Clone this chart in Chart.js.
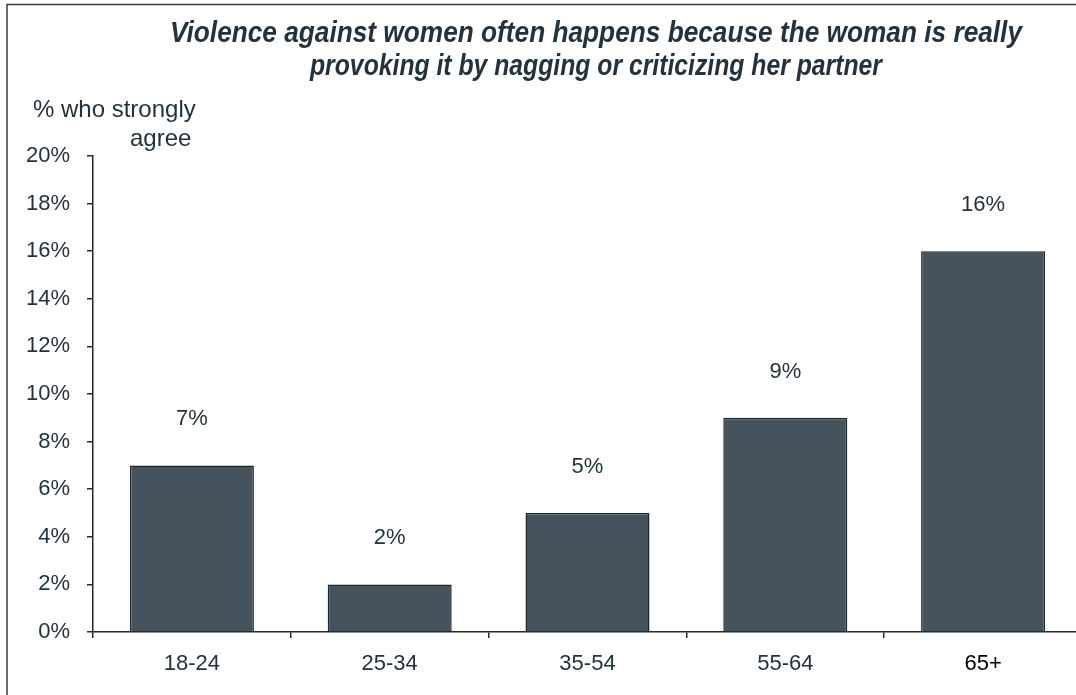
<!DOCTYPE html>
<html>
<head>
<meta charset="utf-8">
<script src="https://cdn.jsdelivr.net/npm/chart.js@4"></script>
<style>
  html, body { margin: 0; padding: 0; background: #fff; overflow: hidden; }
  #wrap { width: 1082px; height: 695px; }
</style>
</head>
<body>
<div id="wrap"><canvas id="chart" width="1082" height="695"></canvas></div>
<script>
// data
const categories = ['18-24', '25-34', '35-54', '55-64', '65+'];
const values = [7, 2, 5, 9, 16];
const yTickValues = [0, 2, 4, 6, 8, 10, 12, 14, 16, 18, 20];
const titleLines = [
    'Violence against women often happens because the woman is really',
    'provoking it by nagging or criticizing her partner'
];
const axisTitleLines = ['% who strongly', 'agree'];

const TEXT = '#25323b';
const AXIS = '#1f2a32';
const FONT = 'Arial, "Liberation Sans", sans-serif';

// title, axis caption, value labels and frame
const decorations = {
    id: 'decorations',
    afterDraw(chart) {
        const ctx = chart.ctx;
        ctx.save();

        // frame
        ctx.strokeStyle = '#3a3a3a';
        ctx.lineWidth = 1.5;
        ctx.beginPath();
        ctx.moveTo(7, 700);
        ctx.lineTo(7, 4.5);
        ctx.lineTo(1100, 4.5);
        ctx.stroke();

        // title, squeezed to the reference width
        ctx.fillStyle = TEXT;
        ctx.textBaseline = 'middle';
        ctx.textAlign = 'center';
        ctx.font = 'bold italic 29px ' + FONT;
        const widths = [852, 572];
        const ys = [34, 67];
        titleLines.forEach((line, i) => {
            const w = ctx.measureText(line).width;
            const s = widths[i] / w;
            ctx.save();
            ctx.translate(596, ys[i]);
            ctx.scale(s, 1);
            ctx.fillText(line, 0, 0);
            ctx.restore();
        });

        // y axis caption
        ctx.font = '24px ' + FONT;
        ctx.textAlign = 'left';
        ctx.fillText(axisTitleLines[0], 33, 110);
        ctx.fillText(axisTitleLines[1], 130, 139);

        // value labels above bars
        ctx.font = '22px ' + FONT;
        ctx.textAlign = 'center';
        const meta = chart.getDatasetMeta(0);
        meta.data.forEach((bar, i) => {
            ctx.fillText(values[i] + '%', bar.x, bar.y - 46);
        });

        ctx.restore();
    }
};

new Chart(document.getElementById('chart'), {
    type: 'bar',
    data: {
        labels: categories,
        datasets: [{
            data: values,
            backgroundColor: '#46535c',
            borderColor: '#1e2830',
            borderWidth: 1.5,
            barPercentage: 0.627,
            categoryPercentage: 1
        }]
    },
    options: {
        responsive: false,
        animation: false,
        devicePixelRatio: 1,
        layout: { padding: { top: 156, left: 0, right: 0, bottom: 0 } },
        plugins: {
            legend: { display: false },
            title: { display: false },
            tooltip: { enabled: false }
        },
        scales: {
            x: {
                grid: {
                    display: true,
                    drawOnChartArea: false,
                    drawTicks: true,
                    tickLength: 6,
                    tickColor: AXIS,
                    lineWidth: 1.5
                },
                border: { display: true, color: AXIS, width: 1.5 },
                ticks: {
                    // last label is plain black in the original
                    color: c => (c.index === categories.length - 1 ? '#000' : TEXT),
                    font: { family: FONT, size: 22 },
                    padding: 13,
                    maxRotation: 0
                },
                afterFit(scale) { scale.height = 63; }
            },
            y: {
                min: 0,
                max: 20,
                afterBuildTicks(scale) {
                    scale.ticks = yTickValues.map(v => ({ value: v }));
                },
                grid: {
                    display: true,
                    drawOnChartArea: false,
                    drawTicks: true,
                    tickLength: 6,
                    tickColor: AXIS,
                    lineWidth: 1.5
                },
                border: { display: true, color: AXIS, width: 1.5 },
                ticks: {
                    color: TEXT,
                    font: { family: FONT, size: 22 },
                    padding: 17,
                    callback: v => v + '%'
                },
                afterFit(scale) { scale.width = 93; }
            }
        }
    },
    plugins: [decorations]
});
</script>
</body>
</html>
